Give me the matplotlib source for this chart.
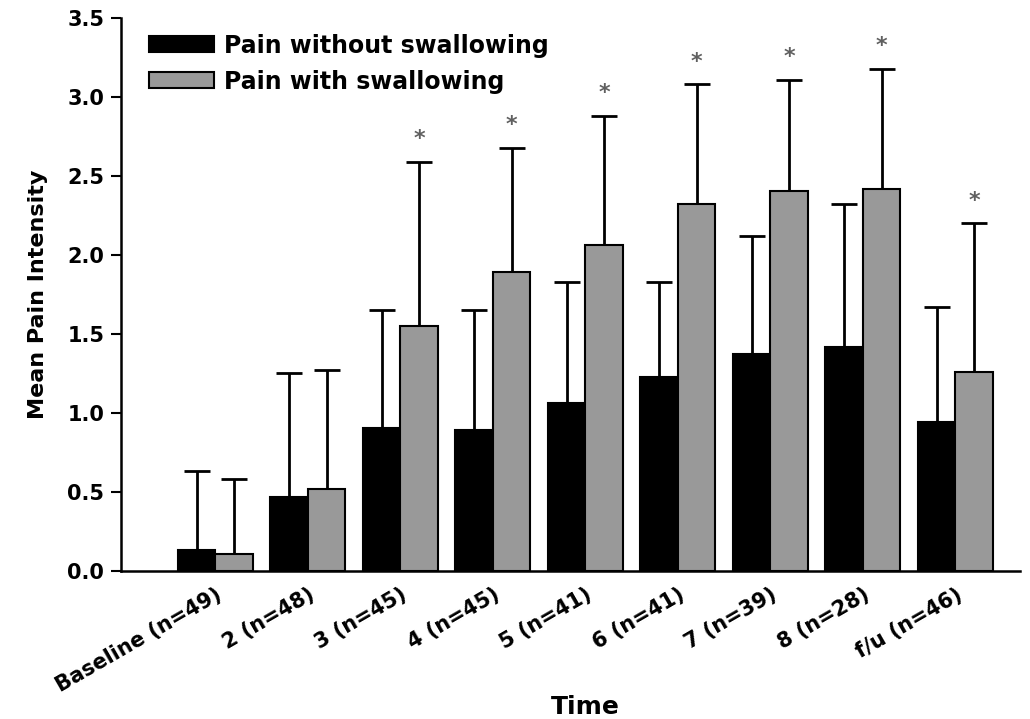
import numpy as np
import matplotlib
matplotlib.use("Agg")
import matplotlib.pyplot as plt

plt.rcParams['font.family'] = ['DejaVu Sans']
plt.rcParams['font.weight'] = 'bold'
plt.rcParams['axes.labelweight'] = 'bold'

# data
times = ["Baseline (n=49)", "2 (n=48)", "3 (n=45)", "4 (n=45)", "5 (n=41)",
         "6 (n=41)", "7 (n=39)", "8 (n=28)", "f/u (n=46)"]
no_swallow = [0.13, 0.47, 0.905, 0.89, 1.06, 1.23, 1.37, 1.42, 0.94]
no_swallow_top = [0.635, 1.25, 1.65, 1.65, 1.83, 1.83, 2.12, 2.32, 1.67]
swallow = [0.11, 0.52, 1.55, 1.89, 2.06, 2.32, 2.405, 2.42, 1.26]
swallow_top = [0.58, 1.27, 2.59, 2.68, 2.88, 3.08, 3.11, 3.18, 2.20]
signif = [False, False, True, True, True, True, True, True, True]

x = np.arange(len(times))
w = 0.405

fig = plt.figure(figsize=(10.3, 7.19), dpi=100)
ax = fig.add_axes([0.1175, 0.206, 0.873, 0.769])

ax.bar(x - w/2, no_swallow, w, color="black", edgecolor="black", linewidth=1.5,
       label="Pain without swallowing", zorder=2)
ax.bar(x + w/2, swallow, w, color="#999999", edgecolor="black", linewidth=1.5,
       label="Pain with swallowing", zorder=2)

# upper error bars only
err1 = np.array(no_swallow_top) - np.array(no_swallow)
err2 = np.array(swallow_top) - np.array(swallow)
ax.errorbar(x - w/2, no_swallow, yerr=[np.zeros(len(x)), err1], fmt="none",
            ecolor="black", elinewidth=2, capsize=9.5, capthick=2, zorder=1)
ax.errorbar(x + w/2, swallow, yerr=[np.zeros(len(x)), err2], fmt="none",
            ecolor="black", elinewidth=2, capsize=9.5, capthick=2, zorder=1)

for i in range(len(x)):
    if signif[i]:
        ax.text(x[i] + w/2, swallow_top[i] + 0.08, "*", ha="center", va="bottom",
                fontsize=16, color="#606060")

ax.set_xlim(-1.02, 8.70)
ax.set_ylim(0, 3.5)
ax.set_yticks(np.arange(0, 3.51, 0.5))
ax.set_yticklabels(["%.1f" % v for v in np.arange(0, 3.51, 0.5)])
ax.set_xticks(x)
ax.set_xticklabels(times, rotation=30, ha="right", rotation_mode="anchor")
ax.tick_params(axis="x", length=0, pad=10, labelsize=15)
ax.tick_params(axis="y", length=7, width=1.5, labelsize=15, pad=5)
for s in ["top", "right"]:
    ax.spines[s].set_visible(False)
ax.spines["left"].set_linewidth(1.8)
ax.spines["bottom"].set_linewidth(1.8)

ax.set_ylabel("Mean Pain Intensity", fontsize=16, labelpad=14)
fig.text(0.568, 0.0167, "Time", ha="center", va="center", fontsize=18, fontweight="bold")

ax.legend(loc="upper left", bbox_to_anchor=(0.008, 1.01), frameon=False, fontsize=17,
          handlelength=2.75, handleheight=0.66, labelspacing=0.5, handletextpad=0.4)

fig.savefig("out.png", dpi=100)
